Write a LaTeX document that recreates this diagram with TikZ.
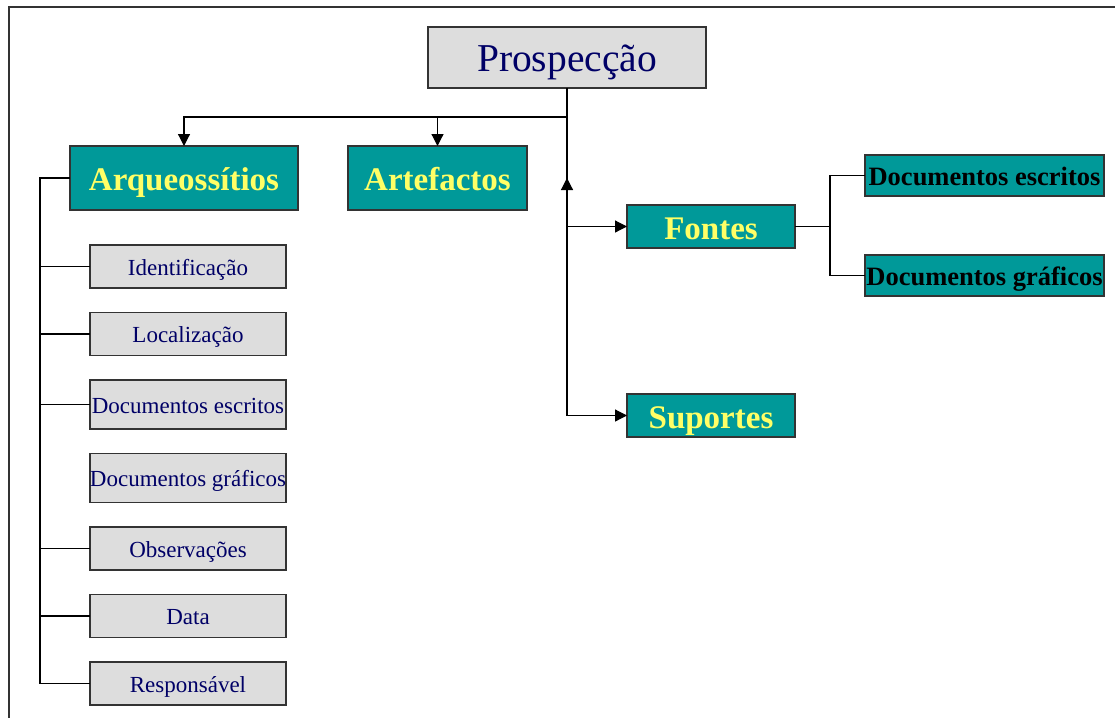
\documentclass[tikz,border=0pt]{standalone}
\usepackage{fontspec}
\setmainfont{Liberation Serif}
\usetikzlibrary{positioning,arrows.meta}
\definecolor{tealbox}{HTML}{009999}
\definecolor{yellowtext}{HTML}{FFFF66}
\definecolor{navytext}{HTML}{000066}
\definecolor{greybox}{HTML}{DDDDDD}

\begin{document}
\begin{tikzpicture}[x=1pt, y=-1pt, node distance=24.5pt,
	b/.style={draw=black!80, line width=1.3pt, inner sep=0pt, outer sep=0pt, text depth=0pt},
	t/.style={b, fill=tealbox, text=yellowtext, font=\bfseries\fontsize{33}{35}\selectfont, text height=25pt, minimum width=168pt, minimum height=43pt},
	d/.style={t, text=black, font=\bfseries\fontsize{26.5}{28}\selectfont, text height=19pt, minimum width=239pt, minimum height=41pt},
	g/.style={b, fill=greybox, text=navytext, font=\fontsize{23}{25}\selectfont, text height=17pt, minimum width=196pt, minimum height=43pt},
	a/.style={line width=1.2pt, -{Triangle[length=12pt, width=12pt]}},
	l/.style={line width=1.2pt}]
		\useasboundingbox (0,0) rectangle (1115,718);
		\draw[line width=1.5pt, black!80] (1115,7) -- (9,7) -- (9,718);

		\node[b, fill=greybox, text=navytext, font=\fontsize{39.5}{41}\selectfont, text height=28.4pt, minimum width=278pt, minimum height=61pt] (P) at (567,57.5) {Prospecção};
		\node[t, minimum width=228pt, minimum height=64pt] (A) at (184,178) {Arqueossítios};
		\node[t, minimum width=179pt, minimum height=64pt] (Art) at (437.5,178) {Artefactos};
		\node[t] (F) at (711,226.5) {Fontes};
		\node[t, below=146pt of F] (S) {Suportes};
		\node[d] (FE) at (984.5,175.5) {Documentos escritos};
		\node[d, below=59pt of FE] (FG) {Documentos gráficos};

		\node[g] (I) at (188,266.5) {Identificação};
		\node[g, below=of I] (L) {Localização};
		\node[g, below=of L, minimum height=49pt] (E) {Documentos escritos};
		\node[g, below=of E, minimum height=49pt] (G) {Documentos gráficos};
		\node[g, below=of G] (O) {Observações};
		\node[g, below=of O] (D) {Data};
		\node[g, below=of D] (R) {Responsável};

		\coordinate[below=29pt of P.south] (hub);
		\coordinate (up) at (hub |- A.center);
		\draw[l] (P.south) -- (hub) -- (hub |- S.west);
		\draw[a] (hub) -| (A.north);
		\draw[a] (hub -| Art.north) -- (Art.north);
		\draw[a] (hub |- F.west) -- (F.west);
		\draw[a] (hub |- S.west) -- (S.west);
		\draw[a] (hub |- F.west) -- (up);

		\coordinate[right=35pt of F.east] (Fj);
		\draw[l] (F.east) -- (Fj);
		\draw[l] (FE.west) -| (Fj) |- (FG.west);

		\coordinate[left=30pt of A.west] (Aj);
		\draw[l] (A.west) -- (Aj) -- (Aj |- R.west);
		\foreach \n in {I,L,E,O,D,R}
			\draw[l] (Aj |- \n.west) -- (\n.west);
	\end{tikzpicture}
\end{document}
